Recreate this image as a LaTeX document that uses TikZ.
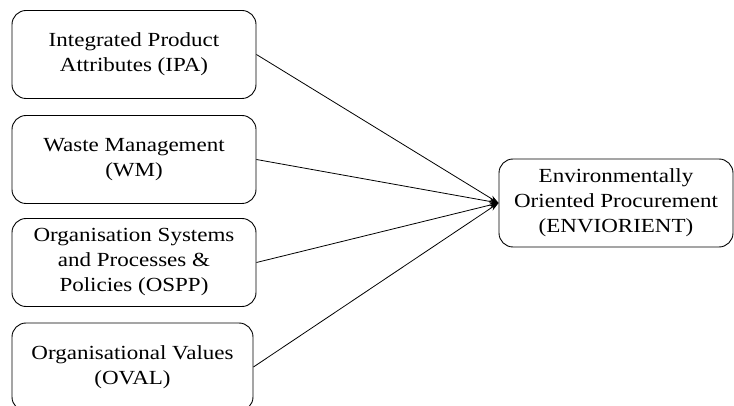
\documentclass[tikz,border=0pt]{standalone}
\usepackage{fontspec}
\setmainfont{Liberation Serif}
\newfontfamily\boxfont[FakeStretch=1.15]{Liberation Serif}
\usetikzlibrary{arrows.meta}
\begin{document}
\begin{tikzpicture}[x=1pt,y=-1pt,
  box/.style={draw, rounded corners=14pt, line width=0.9pt, align=center,
    minimum height=88pt, inner sep=0pt,
    font=\boxfont\fontsize{20}{25}\selectfont},
  factor/.style={box, minimum width=244pt},
  outcome/.style={box, minimum width=234pt},
  link/.style={line width=0.8pt, -{Stealth[length=9pt,width=6pt]}}]
  \useasboundingbox (0,0) rectangle (734,406);
  \clip (0,0) rectangle (734,406);
  \node[factor] (ipa) at (134,54.5) {Integrated Product\\Attributes (IPA)};
  \node[factor] (wm) at (134,159.5) {Waste Management\\(WM)};
  \node[factor] (ospp) at (134,262.5) {Organisation Systems\\and Processes \&\\Policies (OSPP)};
  \node[factor, minimum width=241pt] (oval) at (132.5,367) {Organisational Values\\(OVAL)};
  \node[outcome] (env) at (616,203) {Environmentally\\Oriented Procurement\\(ENVIORIENT)};
  \foreach \src in {ipa,wm,ospp,oval}
    \draw[link] (\src.east) -- (env.west);
\end{tikzpicture}
\end{document}
